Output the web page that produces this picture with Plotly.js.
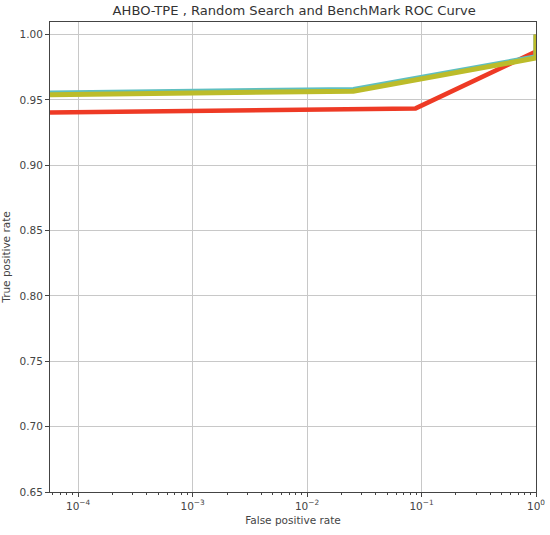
<!DOCTYPE html>
<html>
<head>
<meta charset="utf-8">
<script src="https://cdn.plot.ly/plotly-3.0.1.min.js"></script>
<style>html,body{margin:0;padding:0;background:#fff;}#chart{width:550px;height:535px;}</style>
</head>
<body>
<div id="chart"></div>
<script>
// Data
const fprRandom = [5.69e-5, 0.0254, 1, 1];
const tprRandom = [0.9553, 0.9580, 0.9830, 1.0];
const fprAhbo = [5.69e-5, 0.0254, 1, 1];
const tprAhbo = [0.9540, 0.9567, 0.9820, 1.0];
const fprBench = [5.69e-5, 0.0887, 1, 1];
const tprBench = [0.9404, 0.9435, 0.9870, 1.0];
const xTickVals = [1e-4, 1e-3, 1e-2, 1e-1, 1];
const xTickText = ['10<sup>−4</sup>', '10<sup>−3</sup>', '10<sup>−2</sup>', '10<sup>−1</sup>', '10<sup>0</sup>'];
const yTickVals = [0.65, 0.70, 0.75, 0.80, 0.85, 0.90, 0.95, 1.00];

// minor log ticks 2..9 per decade
const minorVals = [];
for (let e = -5; e < 0; e++) {
  for (let d = 2; d <= 9; d++) minorVals.push(d * Math.pow(10, e));
}

const traces = [
  {x: fprBench, y: tprBench, mode: 'lines', line: {color: '#ee3a25', width: 4.5}, name: 'BenchMark'},
  {x: fprRandom, y: tprRandom, mode: 'lines', line: {color: '#5fbfc0', width: 5}, name: 'Random Search'},
  {x: fprAhbo, y: tprAhbo, mode: 'lines', line: {color: '#bcbc2a', width: 5}, name: 'AHBO-TPE'}
];

const fontFam = 'DejaVu Sans, sans-serif';
const layout = {
  width: 550, height: 535,
  margin: {l: 50, r: 14, t: 22, b: 43},
  paper_bgcolor: '#fff', plot_bgcolor: '#fff',
  showlegend: false,
  title: {text: 'AHBO-TPE , Random Search and BenchMark ROC Curve', font: {family: fontFam, size: 13.1, color: '#333'}, x: 0.535, xanchor: 'center', y: 0.99, yanchor: 'top'},
  xaxis: {
    type: 'log', range: [-4.245, 0],
    tickmode: 'array', tickvals: xTickVals, ticktext: xTickText,
    ticks: 'outside', ticklen: 4, tickcolor: '#444',
    minor: {tickmode: 'array', tickvals: minorVals, ticks: 'outside', ticklen: 2, tickcolor: '#444', showgrid: false},
    showgrid: true, gridcolor: '#c8c8c8', gridwidth: 1,
    showline: true, linecolor: '#444', linewidth: 1, mirror: true,
    zeroline: false,
    tickfont: {family: fontFam, size: 10.5, color: '#444'},
    title: {text: 'False positive rate', font: {family: fontFam, size: 10.5, color: '#444'}, standoff: 6}
  },
  yaxis: {
    range: [0.65, 1.0096],
    tickmode: 'array', tickvals: yTickVals, tickformat: '.2f',
    ticks: 'outside', ticklen: 4, tickcolor: '#444',
    showgrid: true, gridcolor: '#c8c8c8', gridwidth: 1,
    showline: true, linecolor: '#444', linewidth: 1, mirror: true,
    zeroline: false,
    tickfont: {family: fontFam, size: 10.5, color: '#444'},
    title: {text: 'True positive rate', font: {family: fontFam, size: 10.5, color: '#444'}, standoff: 7}
  }
};

Plotly.newPlot('chart', traces, layout, {displayModeBar: false, staticPlot: true});
</script>
</body>
</html>
